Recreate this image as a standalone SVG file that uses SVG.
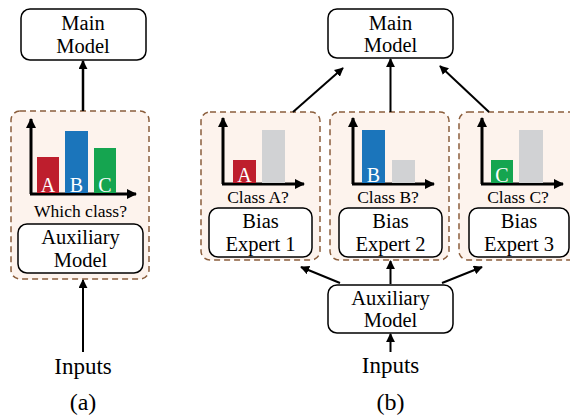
<svg xmlns="http://www.w3.org/2000/svg" width="570" height="418" viewBox="0 0 570 418" font-family="'Liberation Serif', 'Times New Roman', serif">
<defs>
<marker id="ah" viewBox="0 0 10 10" refX="9" refY="5" markerWidth="9" markerHeight="9" markerUnits="userSpaceOnUse" orient="auto">
<path d="M0,0 L10,5 L0,10 z" fill="#000"/>
</marker>
<marker id="ax" viewBox="0 0 10 10" refX="9" refY="5" markerWidth="10" markerHeight="10" markerUnits="userSpaceOnUse" orient="auto">
<path d="M0,0 L10,5 L0,10 z" fill="#000"/>
</marker>
</defs>
<style>
#d text{font-family:'Liberation Serif','Times New Roman',serif;fill:#000;text-anchor:middle}
.box{fill:#fff;stroke:#000;stroke-width:1.5}
.dash{fill:#fdf3ed;stroke:#8b5e3c;stroke-width:1.5;stroke-dasharray:6 4}
#d .t{font-size:20.5px}
#d .s{font-size:17.5px}
#d .i{font-size:23px}
#d .p{font-size:24px}
#d .l{font-size:20px;fill:#fff}
.axis{stroke:#000;stroke-width:3;fill:none}
.c{stroke:#000;stroke-width:2;fill:none;marker-end:url(#ah)}
.red{fill:#be1e2d}.blue{fill:#1b75bb}.green{fill:#15a550}.gray{fill:#d1d2d4}
</style>
<rect width="570" height="418" fill="#fff"/>
<g id="d">
<!-- Panel (a) -->
<g id="a-main">
<rect class="box" x="21" y="9" width="125" height="51" rx="9"/>
<text class="t" x="83" y="30">Main</text>
<text class="t" x="83" y="53">Model</text>
</g>
<g id="a-aux-group">
<rect class="dash" x="11" y="111" width="138" height="168" rx="9"/>
<path class="axis" d="M31,194 V119" marker-end="url(#ax)"/>
<path class="axis" d="M30,194 H136" marker-end="url(#ax)"/>
<rect class="red" x="37" y="157" width="22" height="36"/>
<rect class="blue" x="65" y="131" width="23" height="62"/>
<rect class="green" x="94" y="148" width="22" height="45"/>
<text class="l" x="48" y="192">A</text>
<text class="l" x="76.5" y="192">B</text>
<text class="l" x="105" y="192">C</text>
<text class="s" x="80.5" y="217">Which class?</text>
<g id="a-aux">
<rect class="box" x="18" y="224" width="125" height="49" rx="9"/>
<text class="t" x="80.5" y="244">Auxiliary</text>
<text class="t" x="80.5" y="267">Model</text>
</g>
</g>
<g id="a-inputs"><text class="i" x="83" y="374">Inputs</text></g>
<text class="p" x="83" y="410">(a)</text>

<!-- Panel (b) -->
<g id="b-main">
<rect class="box" x="328" y="9" width="125" height="49" rx="9"/>
<text class="t" x="390.5" y="30">Main</text>
<text class="t" x="390.5" y="52">Model</text>
</g>

<g id="b-expert1">
<rect class="dash" x="201" y="112" width="119" height="148" rx="9"/>
<path class="axis" d="M223,184 V118" marker-end="url(#ax)"/>
<path class="axis" d="M222,184 H304" marker-end="url(#ax)"/>
<rect class="red" x="233" y="160" width="23" height="23"/>
<rect class="gray" x="262" y="130" width="23" height="53"/>
<text class="l" x="244.5" y="182">A</text>
<text class="s" x="258" y="203">Class A?</text>
<rect class="box" x="209" y="208" width="103" height="49" rx="9"/>
<text class="t" x="260.5" y="228">Bias</text>
<text class="t" x="260.5" y="251">Expert 1</text>
</g>

<g id="b-expert2">
<rect class="dash" x="330" y="112" width="119" height="148" rx="9"/>
<path class="axis" d="M353,184 V118" marker-end="url(#ax)"/>
<path class="axis" d="M352,184 H434" marker-end="url(#ax)"/>
<rect class="blue" x="362" y="130" width="23" height="53"/>
<rect class="gray" x="392" y="160" width="23" height="23"/>
<text class="l" x="373.5" y="182">B</text>
<text class="s" x="388" y="203">Class B?</text>
<rect class="box" x="339" y="208" width="103" height="49" rx="9"/>
<text class="t" x="390.5" y="228">Bias</text>
<text class="t" x="390.5" y="251">Expert 2</text>
</g>

<g id="b-expert3">
<rect class="dash" x="459" y="112" width="121" height="148" rx="9"/>
<path class="axis" d="M482,184 V118" marker-end="url(#ax)"/>
<path class="axis" d="M481,184 H563" marker-end="url(#ax)"/>
<rect class="green" x="491" y="160" width="22" height="23"/>
<rect class="gray" x="519" y="130" width="24" height="53"/>
<text class="l" x="502" y="182">C</text>
<text class="s" x="518" y="203">Class C?</text>
<rect class="box" x="469" y="208" width="100" height="49" rx="9"/>
<text class="t" x="519" y="228">Bias</text>
<text class="t" x="519" y="251">Expert 3</text>
</g>

<g id="b-aux">
<rect class="box" x="328" y="285" width="125" height="48" rx="9"/>
<text class="t" x="390.5" y="305">Auxiliary</text>
<text class="t" x="390.5" y="327">Model</text>
</g>
<g id="b-inputs"><text class="i" x="390.5" y="373">Inputs</text></g>
<text class="p" x="390.5" y="410">(b)</text>

<g id="connectors">
<line class="c" x1="83" y1="111" x2="83" y2="61" style="stroke-width:2.5"/>
<line class="c" x1="83" y1="352" x2="83" y2="280"/>
<line class="c" x1="293" y1="112" x2="343" y2="68"/>
<line class="c" x1="390.5" y1="112" x2="390.5" y2="59"/>
<line class="c" x1="489" y1="112" x2="440" y2="66"/>
<line class="c" x1="340" y1="283" x2="301" y2="267"/>
<line class="c" x1="390.5" y1="284" x2="390.5" y2="261"/>
<line class="c" x1="442" y1="283" x2="482" y2="267"/>
<line class="c" x1="390.5" y1="352" x2="390.5" y2="334"/>
</g>
</g>
</svg>
